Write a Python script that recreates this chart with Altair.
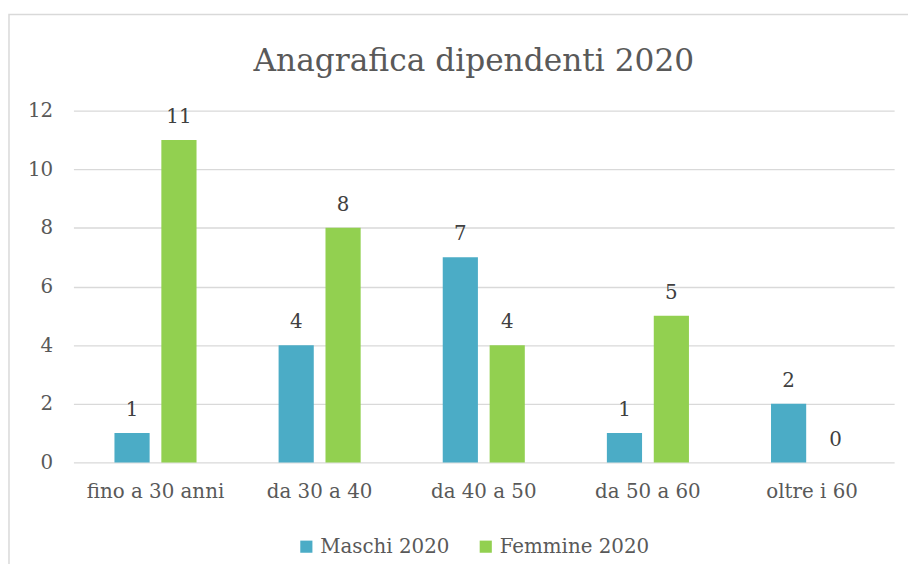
import altair as alt
import pandas as pd

categories = ["fino a 30 anni", "da 30 a 40", "da 40 a 50", "da 50 a 60", "oltre i 60"]
series = ["Maschi 2020", "Femmine 2020"]
maschi = [1, 4, 7, 1, 2]
femmine = [11, 8, 4, 5, 0]
colors = ["#4BACC6", "#92D050"]

rows = []
for c, m, f in zip(categories, maschi, femmine):
    rows.append({"cat": c, "serie": series[0], "val": m})
    rows.append({"cat": c, "serie": series[1], "val": f})
df = pd.DataFrame(rows)

FONT = "DejaVu Serif"
GRAY = "#595959"
FS = 20

x = alt.X("cat:N", sort=categories, title=None,
          scale=alt.Scale(paddingInner=0.5, paddingOuter=0.25),
          axis=alt.Axis(labelAngle=0, ticks=False, domain=False, labelPadding=19,
                        labelFontSize=FS, labelColor=GRAY, labelFont=FONT))
xo = alt.XOffset("serie:N", sort=series, scale=alt.Scale(paddingInner=0.25, paddingOuter=0))
y = alt.Y("val:Q", title=None,
          scale=alt.Scale(domain=[0, 12]),
          axis=alt.Axis(values=[0, 2, 4, 6, 8, 10, 12], ticks=False, domain=False,
                        labelPadding=21, labelFontSize=FS, labelColor=GRAY, labelFont=FONT,
                        gridColor="#D9D9D9", gridWidth=1.3))
color = alt.Color("serie:N", sort=series, scale=alt.Scale(domain=series, range=colors),
                  legend=alt.Legend(title=None, orient="none", direction="horizontal",
                                    legendX=225, legendY=430, symbolType="square",
                                    symbolSize=150, symbolStrokeWidth=0, labelFontSize=FS,
                                    labelColor=GRAY, labelFont=FONT, columnPadding=26,
                                    symbolOffset=0, labelOffset=4))

border = alt.Chart(pd.DataFrame({"a": [0]})).mark_rect(
    fill=None, stroke="#D9D9D9", strokeWidth=1.5, clip=False
).encode(x=alt.value(-65), x2=alt.value(845), y=alt.value(-97), y2=alt.value(475))

bars = alt.Chart(df).mark_bar().encode(x=x, xOffset=xo, y=y, color=color)
labels = alt.Chart(df).mark_text(baseline="bottom", dy=-13, fontSize=FS, color="#404040",
                                  font=FONT).encode(
    x=alt.X("cat:N", sort=categories), xOffset=xo, y="val:Q", text="val:Q")

chart = alt.layer(border, bars, labels).properties(
    width=828, height=355,
    title=alt.TitleParams("Anagrafica dipendenti 2020", fontSize=31.5, font=FONT,
                          fontWeight="normal", color=GRAY, offset=-64, dx=-10),
    autosize=alt.AutoSizeParams(type="none"),
    padding={"left": 66, "top": 101, "right": 14, "bottom": 100},
).configure_view(stroke=None)

chart.save("out.html", embed_options={"renderer": "svg", "actions": False})
